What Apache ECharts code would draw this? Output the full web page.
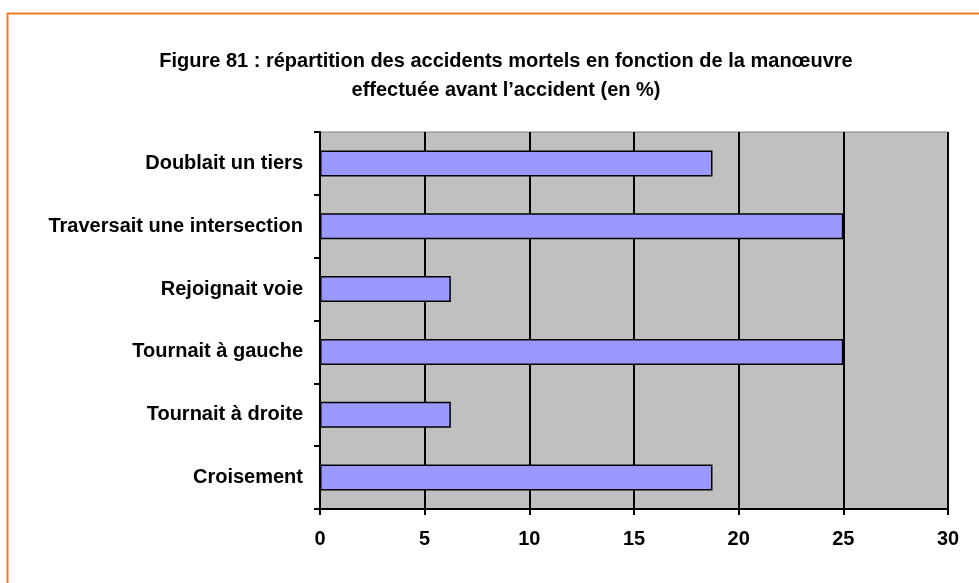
<!DOCTYPE html>
<html>
<head>
<meta charset="utf-8">
<script src="https://cdn.jsdelivr.net/npm/echarts@6/dist/echarts.min.js"></script>
<style>
  html, body { margin: 0; padding: 0; background: #ffffff; }
  #chart { width: 979px; height: 583px; }
</style>
</head>
<body>
<div id="chart"></div>
<script>
// Manœuvres, listed bottom to top as drawn on the category axis
const manoeuvres = [
  'Croisement',
  'Tournait à droite',
  'Tournait à gauche',
  'Rejoignait voie',
  'Traversait une intersection',
  'Doublait un tiers'
];
// Share of fatal accidents (%)
const parts = [18.75, 6.25, 25, 6.25, 25, 18.75];
// Value axis ticks
const xTicks = [0, 5, 10, 15, 20, 25, 30];

const titleLines = [
  'Figure 81 : répartition des accidents mortels en fonction de la manœuvre',
  'effectuée avant l’accident (en %)'
];

const font = 'Liberation Sans, Arial, sans-serif';
const chart = echarts.init(document.getElementById('chart'), null, { renderer: 'canvas' });

chart.setOption({
  backgroundColor: '#ffffff',
  animation: false,
  title: {
    text: titleLines.join('\n'),
    left: 501,
    textAlign: 'center',
    top: 42,
    textStyle: {
      fontFamily: font,
      fontWeight: 'bold',
      fontSize: 20,
      lineHeight: 29,
      color: '#000000'
    }
  },
  graphic: [
    // orange frame (left and top edges)
    { type: 'line', shape: { x1: 7.5, y1: 13.5, x2: 7.5, y2: 583 }, style: { stroke: '#F47B20', lineWidth: 2 } },
    { type: 'line', shape: { x1: 7, y1: 13.5, x2: 979, y2: 13.5 }, style: { stroke: '#F47B20', lineWidth: 2 } }
  ],
  grid: {
    left: 320,
    top: 132,
    width: 628,
    height: 377,
    show: true,
    backgroundColor: '#C0C0C0',
    borderColor: '#808080',
    borderWidth: 1
  },
  xAxis: {
    type: 'value',
    min: xTicks[0],
    max: xTicks[xTicks.length - 1],
    interval: 5,
    axisLine: { show: true, lineStyle: { color: '#000000', width: 2 } },
    axisTick: { show: true, length: 6, lineStyle: { color: '#000000', width: 2 } },
    axisLabel: {
      margin: 20,
      fontFamily: font,
      fontWeight: 'bold',
      fontSize: 20,
      color: '#000000'
    },
    splitLine: { show: true, lineStyle: { color: '#000000', width: 2 } }
  },
  yAxis: {
    type: 'category',
    data: manoeuvres,
    axisLine: { show: true, lineStyle: { color: '#000000', width: 2 } },
    axisTick: { show: true, length: 6, lineStyle: { color: '#000000', width: 2 } },
    axisLabel: {
      margin: 17,
      fontFamily: font,
      fontWeight: 'bold',
      fontSize: 20,
      color: '#000000'
    }
  },
  series: [{
    type: 'bar',
    data: parts,
    barWidth: 26,
    itemStyle: {
      color: '#9999FF',
      borderColor: '#000000',
      borderWidth: 1.5
    }
  }]
});
</script>
</body>
</html>
